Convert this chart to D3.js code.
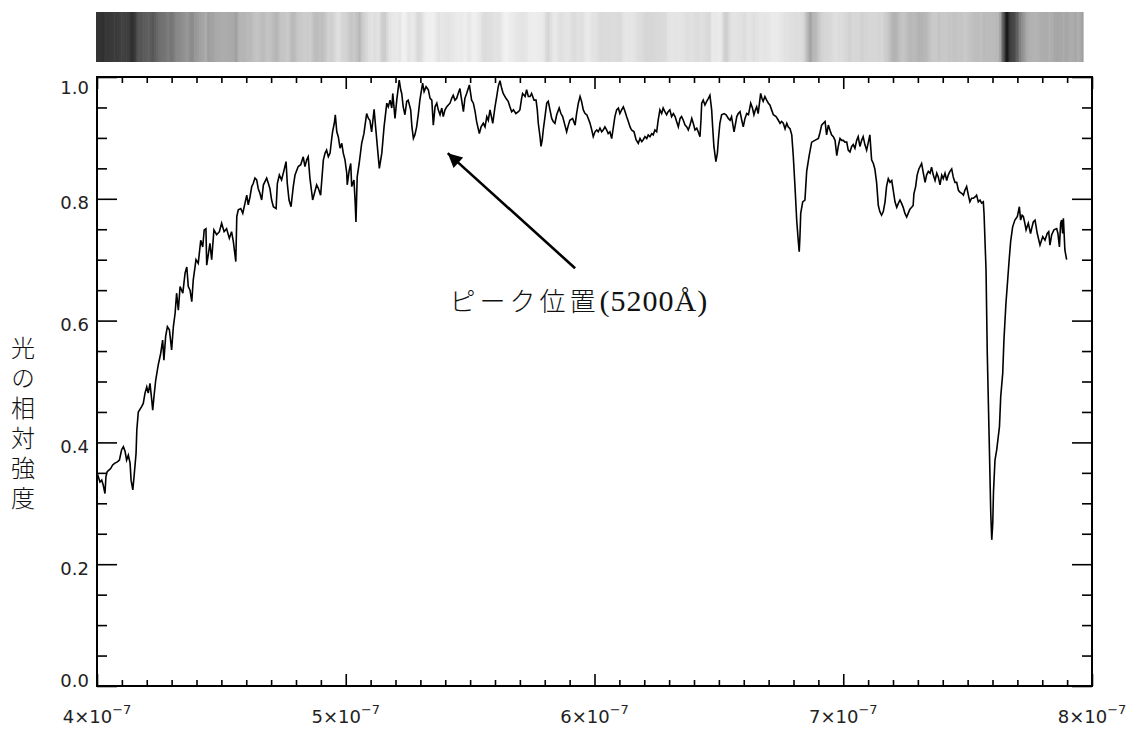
<!DOCTYPE html>
<html><head><meta charset="utf-8">
<script src="https://cdn.jsdelivr.net/npm/d3@7"></script>
<style>body{margin:0;background:#fff}svg{display:block}</style>
</head><body><svg id="c" width="1137" height="731"></svg>
<script>
// wavelength (nm), relative intensity
const spectrum = [
[400.0,0.350],[401.2,0.335],[401.9,0.338],[402.5,0.330],[403.2,0.316],[403.6,0.344],[404.1,0.352],[404.9,0.355],[405.5,0.357],[406.3,0.363],
[407.2,0.366],[408.2,0.368],[409.0,0.371],[409.9,0.388],[410.6,0.393],[411.3,0.385],[411.9,0.371],[412.6,0.379],[413.3,0.366],[413.7,0.338],
[414.4,0.322],[414.9,0.344],[415.7,0.382],[416.0,0.420],[416.6,0.450],[418.0,0.459],[418.6,0.464],[419.3,0.481],[420.0,0.491],[420.6,0.481],
[421.3,0.497],[422.0,0.470],[422.4,0.453],[422.9,0.475],[423.6,0.502],[424.6,0.527],[425.6,0.546],[426.4,0.568],[426.9,0.535],[427.6,0.574],
[428.3,0.590],[429.1,0.585],[430.0,0.552],[430.7,0.590],[431.4,0.612],[432.0,0.645],[432.7,0.617],[433.4,0.656],[434.5,0.645],[435.4,0.678],
[436.1,0.688],[436.7,0.656],[437.4,0.650],[438.1,0.631],[438.7,0.667],[439.8,0.700],[440.7,0.694],[441.7,0.732],[442.5,0.721],[443.1,0.749],
[443.8,0.751],[444.1,0.691],[444.8,0.710],[445.4,0.727],[446.1,0.700],[447.0,0.749],[448.1,0.741],[449.2,0.746],[450.1,0.760],[451.1,0.746],
[452.1,0.751],[453.2,0.735],[454.1,0.746],[454.8,0.730],[455.8,0.697],[456.2,0.771],[456.8,0.782],[457.8,0.784],[458.6,0.776],[459.5,0.793],
[460.2,0.806],[460.8,0.790],[461.5,0.803],[462.2,0.820],[462.8,0.825],[463.5,0.834],[464.2,0.831],[464.8,0.817],[465.5,0.809],[466.2,0.798],
[466.9,0.823],[468.2,0.834],[468.9,0.825],[469.5,0.817],[470.2,0.798],[470.9,0.787],[472.0,0.784],[472.5,0.825],[473.3,0.839],[474.2,0.831],
[475.2,0.847],[476.0,0.861],[476.5,0.825],[477.2,0.798],[478.0,0.787],[478.9,0.820],[479.6,0.839],[480.9,0.853],[481.9,0.856],[482.9,0.869],
[483.6,0.853],[484.3,0.864],[484.9,0.869],[485.6,0.834],[486.7,0.798],[487.6,0.812],[488.3,0.823],[489.0,0.817],[489.9,0.806],[491.0,0.864],
[491.7,0.875],[492.3,0.880],[493.0,0.869],[493.7,0.875],[494.3,0.897],[494.7,0.910],[495.4,0.924],[495.8,0.938],[496.4,0.910],[497.0,0.902],
[497.7,0.883],[498.4,0.891],[499.0,0.875],[499.7,0.864],[500.4,0.842],[500.6,0.823],[501.4,0.847],[502.0,0.858],[502.4,0.820],[503.3,0.831],
[503.8,0.793],[504.1,0.762],[504.6,0.836],[505.4,0.858],[506.4,0.891],[507.3,0.907],[508.4,0.940],[509.1,0.932],[509.7,0.929],[510.4,0.910],
[511.4,0.947],[512.0,0.918],[512.7,0.886],[513.5,0.850],[514.5,0.875],[515.4,0.918],[516.5,0.957],[517.1,0.951],[517.8,0.962],[518.5,0.949],
[518.9,0.973],[519.8,0.932],[520.5,0.962],[521.5,0.995],[522.1,0.979],[522.5,0.973],[523.1,0.951],[523.8,0.938],[524.5,0.960],[525.1,0.962],
[526.1,0.946],[526.6,0.918],[527.2,0.899],[527.8,0.905],[528.5,0.918],[529.2,0.940],[529.8,0.962],[530.9,0.990],[531.5,0.976],[532.3,0.984],
[533.2,0.979],[533.9,0.965],[534.6,0.962],[535.2,0.921],[535.9,0.951],[536.6,0.957],[537.2,0.946],[537.9,0.938],[538.6,0.949],[539.2,0.935],
[539.9,0.946],[540.6,0.951],[541.9,0.957],[542.6,0.965],[543.2,0.970],[543.9,0.962],[544.6,0.965],[545.2,0.973],[545.9,0.981],[546.6,0.962],
[547.3,0.943],[547.9,0.965],[548.6,0.973],[549.7,0.987],[550.6,0.962],[551.3,0.957],[552.0,0.943],[552.6,0.927],[553.7,0.907],[554.4,0.918],
[555.3,0.924],[556.0,0.918],[556.7,0.935],[557.3,0.929],[558.0,0.946],[559.1,0.924],[560.0,0.951],[560.7,0.968],[561.3,0.984],[562.0,0.994],
[562.7,0.981],[563.3,0.973],[564.4,0.965],[565.3,0.960],[566.0,0.951],[566.7,0.943],[567.4,0.946],[568.4,0.940],[569.4,0.943],[570.0,0.946],
[570.7,0.965],[571.1,0.973],[572.1,0.968],[572.7,0.979],[573.4,0.968],[574.1,0.968],[574.7,0.973],[575.7,0.962],[576.5,0.962],[577.0,0.946],
[577.4,0.924],[578.1,0.902],[578.5,0.886],[579.0,0.897],[579.4,0.913],[580.1,0.935],[580.8,0.957],[581.4,0.960],[582.1,0.946],[582.8,0.932],
[583.4,0.927],[584.1,0.924],[584.8,0.938],[585.8,0.949],[586.5,0.940],[587.2,0.935],[588.1,0.921],[588.8,0.910],[589.5,0.921],[590.1,0.929],
[591.2,0.932],[592.2,0.921],[592.8,0.940],[593.5,0.957],[594.2,0.968],[594.8,0.960],[595.5,0.946],[596.2,0.940],[596.9,0.938],[597.5,0.932],
[598.2,0.924],[598.9,0.913],[599.5,0.902],[600.2,0.910],[600.9,0.913],[601.5,0.910],[602.2,0.916],[602.9,0.910],[603.5,0.913],[604.2,0.918],
[604.9,0.913],[605.5,0.907],[606.2,0.910],[606.9,0.899],[607.6,0.918],[608.2,0.935],[608.9,0.946],[609.6,0.949],[610.2,0.940],[610.9,0.946],
[611.6,0.951],[612.3,0.943],[612.9,0.935],[613.6,0.927],[614.3,0.918],[614.9,0.913],[615.9,0.910],[616.7,0.897],[617.6,0.891],[618.3,0.899],
[619.0,0.894],[619.6,0.897],[620.3,0.902],[621.0,0.899],[621.6,0.905],[622.3,0.902],[623.0,0.907],[623.6,0.905],[624.3,0.913],[625.0,0.910],
[625.6,0.929],[626.3,0.946],[627.0,0.940],[627.6,0.949],[628.3,0.943],[629.0,0.938],[629.6,0.943],[630.3,0.946],[631.0,0.935],[631.7,0.940],
[632.4,0.935],[633.0,0.927],[633.7,0.918],[634.4,0.932],[635.0,0.935],[635.7,0.929],[636.4,0.921],[637.1,0.918],[637.7,0.913],[638.4,0.921],
[639.1,0.932],[639.7,0.924],[640.4,0.913],[641.1,0.916],[641.7,0.910],[642.4,0.902],[642.8,0.929],[643.1,0.957],[643.7,0.962],[644.4,0.954],
[645.1,0.960],[645.8,0.965],[646.4,0.970],[647.1,0.946],[647.5,0.918],[648.0,0.886],[648.8,0.861],[649.4,0.875],[649.8,0.897],[650.4,0.924],
[651.1,0.938],[652.1,0.940],[652.9,0.938],[653.8,0.932],[654.5,0.929],[655.1,0.935],[656.1,0.910],[656.6,0.921],[657.2,0.935],[657.8,0.940],
[658.5,0.943],[659.2,0.929],[659.8,0.918],[660.5,0.932],[661.2,0.940],[661.9,0.938],[662.8,0.957],[663.5,0.949],[664.1,0.938],[664.7,0.946],
[665.2,0.951],[665.8,0.940],[666.8,0.973],[667.3,0.965],[667.8,0.960],[668.5,0.968],[669.2,0.962],[669.9,0.957],[670.5,0.954],[671.2,0.946],
[671.9,0.938],[673.0,0.935],[673.9,0.929],[674.6,0.924],[675.2,0.927],[675.9,0.924],[676.6,0.915],[677.3,0.924],[677.9,0.918],[678.6,0.915],
[679.3,0.905],[679.9,0.871],[680.6,0.820],[681.3,0.764],[681.9,0.732],[682.3,0.713],[682.6,0.739],[682.9,0.776],[683.7,0.795],[684.6,0.798],
[685.3,0.845],[686.3,0.871],[687.3,0.893],[688.6,0.896],[690.0,0.899],[690.6,0.908],[691.3,0.921],[692.0,0.924],[692.7,0.927],[693.3,0.905],
[694.0,0.921],[694.7,0.912],[695.3,0.905],[696.0,0.902],[696.7,0.896],[697.4,0.871],[698.0,0.886],[698.7,0.899],[699.4,0.896],[700.0,0.896],
[700.7,0.893],[701.4,0.893],[702.0,0.880],[702.7,0.877],[703.4,0.886],[704.0,0.889],[704.7,0.883],[705.4,0.896],[706.0,0.902],[706.7,0.886],
[707.4,0.896],[708.0,0.902],[708.7,0.889],[709.4,0.880],[710.1,0.893],[710.7,0.905],[711.4,0.864],[712.1,0.858],[712.7,0.849],[713.4,0.827],
[714.1,0.789],[714.7,0.779],[715.4,0.773],[716.1,0.779],[716.8,0.795],[717.4,0.820],[718.1,0.833],[718.8,0.827],[719.5,0.830],[720.1,0.814],
[720.8,0.795],[721.5,0.786],[722.1,0.792],[722.8,0.798],[723.5,0.792],[724.1,0.786],[724.8,0.776],[725.5,0.770],[726.1,0.776],[726.8,0.783],
[727.5,0.786],[728.1,0.789],[728.4,0.808],[729.1,0.820],[729.7,0.839],[730.4,0.849],[731.5,0.858],[732.2,0.842],[732.9,0.827],[733.5,0.839],
[734.2,0.845],[734.9,0.842],[735.5,0.852],[736.2,0.839],[736.9,0.830],[737.6,0.842],[738.2,0.836],[738.9,0.823],[739.6,0.839],[740.2,0.833],
[740.9,0.842],[741.6,0.830],[742.2,0.839],[742.9,0.845],[743.6,0.849],[744.2,0.836],[744.9,0.827],[745.6,0.827],[746.3,0.814],[746.9,0.811],
[747.6,0.809],[748.3,0.806],[748.9,0.814],[749.6,0.820],[750.3,0.806],[750.9,0.795],[751.6,0.801],[752.3,0.801],[753.0,0.803],[753.6,0.806],
[754.3,0.795],[755.0,0.798],[755.6,0.793],[756.3,0.795],[756.6,0.776],[757.4,0.683],[757.9,0.546],[758.7,0.399],[759.3,0.284],[759.7,0.240],
[760.1,0.267],[760.4,0.319],[761.0,0.371],[761.7,0.388],[762.8,0.426],[763.3,0.475],[764.1,0.513],[764.6,0.568],[765.4,0.628],[766.0,0.661],
[766.7,0.700],[767.3,0.730],[768.1,0.754],[769.0,0.765],[770.0,0.771],[770.8,0.787],[771.3,0.765],[771.9,0.773],[772.4,0.771],[773.0,0.760],
[773.5,0.749],[774.4,0.760],[775.3,0.743],[775.9,0.754],[776.4,0.762],[777.1,0.765],[778.0,0.743],[779.1,0.724],[780.2,0.738],[781.1,0.732],
[782.0,0.743],[782.6,0.746],[783.1,0.724],[783.8,0.741],[784.7,0.749],[785.8,0.751],[786.3,0.743],[786.9,0.721],[787.4,0.760],[787.8,0.765],
[788.2,0.743],[788.5,0.768],[789.1,0.716],[789.8,0.700]
];
const xMajorTicks = [400, 500, 600, 700, 800];
const xTickMantissa = ["4", "5", "6", "7", "8"];
const xTickExponent = "−7";
const yMajorTicks = [0, 0.2, 0.4, 0.6, 0.8, 1.0];
const yTickLabels = ["0.0", "0.2", "0.4", "0.6", "0.8", "1.0"];
const yTitle = "光の相対強度";
const annotationLabel = "ピーク位置";
const annotationValue = "(5200Å)";
// annotation anchor points in data units: [wavelength nm, intensity]
const arrowTip = [541.0, 0.875];
const arrowTail = [592.2, 0.686];
const annotationAt = [541.7, 0.616];

const svg = d3.select("#c");
const L = 97, R = 1092, T = 77, B = 686;
const x = d3.scaleLinear().domain([400, 800]).range([L, R]);
const y = d3.scaleLinear().domain([0, 1]).range([B, T]);

// spectrum strip
const xb = d3.scaleLinear().domain([spectrum[0][0], spectrum[spectrum.length - 1][0]]).range([96, 1083]);
const gray = d3.scaleLinear().domain([0.2, 1.0]).range([10, 245]).clamp(true);
const strip = svg.append("g");
for (let i = 0; i < spectrum.length - 1; i++) {
  const x0 = xb(spectrum[i][0]), x1 = xb(spectrum[i + 1][0]);
  const g = Math.round(gray((spectrum[i][1] + spectrum[i + 1][1]) / 2));
  strip.append("rect").attr("x", x0).attr("y", 12).attr("width", Math.max(0.6, x1 - x0 + 0.6)).attr("height", 50)
    .attr("fill", `rgb(${g},${g},${g})`);
}

// axes ticks
const xMinor = d3.range(400, 801, 10).filter(v => v % 100 !== 0);
const yMinor = d3.range(0, 1.0001, 0.05).map(v => +v.toFixed(2)).filter(v => Math.round(v * 100) % 20 !== 0);
function tickAxis(gen, transform, vals, size) {
  const g = svg.append("g").attr("transform", transform)
    .call(gen.tickValues(vals).tickSize(size).tickFormat(""));
  g.select(".domain").remove();
  g.selectAll("line").attr("stroke", "#000").attr("stroke-width", 1.6);
}
tickAxis(d3.axisBottom(x), `translate(0,${B})`, xMajorTicks, -12);
tickAxis(d3.axisBottom(x), `translate(0,${B})`, xMinor, -6);
tickAxis(d3.axisTop(x), `translate(0,${T})`, xMajorTicks, -12);
tickAxis(d3.axisTop(x), `translate(0,${T})`, xMinor, -6);
tickAxis(d3.axisLeft(y), `translate(${L},0)`, yMajorTicks, -20);
tickAxis(d3.axisLeft(y), `translate(${L},0)`, yMinor, -10);
tickAxis(d3.axisRight(y), `translate(${R},0)`, yMajorTicks, -20);
tickAxis(d3.axisRight(y), `translate(${R},0)`, yMinor, -10);

// frame
svg.append("rect").attr("x", L).attr("y", T).attr("width", R - L).attr("height", B - T)
  .attr("fill", "none").attr("stroke", "#000").attr("stroke-width", 2);

// y tick labels
const font = "DejaVu Sans, sans-serif";
yMajorTicks.forEach((t, i) => {
  const cy = Math.min(B - 5, Math.max(T + 11, y(t) + 4));
  svg.append("text").attr("x", L - 8).attr("y", cy).attr("dy", "0.36em")
    .attr("text-anchor", "end").attr("font-family", font).attr("font-size", 18)
    .attr("fill", "#222").text(yTickLabels[i]);
});
// x tick labels
xMajorTicks.forEach((t, i) => {
  const tx = svg.append("text").attr("x", x(t)).attr("y", 723).attr("text-anchor", "middle")
    .attr("font-family", font).attr("font-size", 18).attr("fill", "#222");
  tx.append("tspan").text(xTickMantissa[i] + "×10");
  tx.append("tspan").attr("dy", -9).attr("font-size", 13).text(xTickExponent);
});

// y title (vertical, stacked)
svg.append("text").attr("x", 23).attr("y", 336)
  .attr("font-family", "Noto Sans CJK JP, sans-serif").attr("font-weight", 300)
  .attr("font-size", 24).attr("letter-spacing", 6).attr("fill", "#111")
  .style("writing-mode", "vertical-rl").style("text-orientation", "upright")
  .text(yTitle);

// spectrum line
const line = d3.line().x(d => x(d[0])).y(d => y(d[1]));
svg.append("path").datum(spectrum).attr("d", line).attr("fill", "none")
  .attr("stroke", "#000").attr("stroke-width", 1.6).attr("stroke-linejoin", "miter");

// arrow
const defs = svg.append("defs");
defs.append("marker").attr("id", "ah").attr("viewBox", "0 0 10 10").attr("refX", 10).attr("refY", 5)
  .attr("markerWidth", 6.5).attr("markerHeight", 5.5).attr("markerUnits", "strokeWidth").attr("orient", "auto")
  .append("path").attr("d", "M0,0 L10,5 L0,10 Z").attr("fill", "#000");
svg.append("line").attr("x1", x(arrowTail[0])).attr("y1", y(arrowTail[1]))
  .attr("x2", x(arrowTip[0])).attr("y2", y(arrowTip[1]))
  .attr("stroke", "#000").attr("stroke-width", 2.6).attr("marker-end", "url(#ah)");

// annotation text
const at = svg.append("text").attr("x", x(annotationAt[0])).attr("y", y(annotationAt[1])).attr("fill", "#111");
at.append("tspan").attr("font-family", "Noto Sans CJK JP, sans-serif").attr("font-weight", 300)
  .attr("font-size", 26).attr("letter-spacing", 4).text(annotationLabel);
at.append("tspan").attr("font-family", "Liberation Serif, serif").attr("font-size", 30)
  .attr("letter-spacing", 1).text(annotationValue);
</script></body></html>
